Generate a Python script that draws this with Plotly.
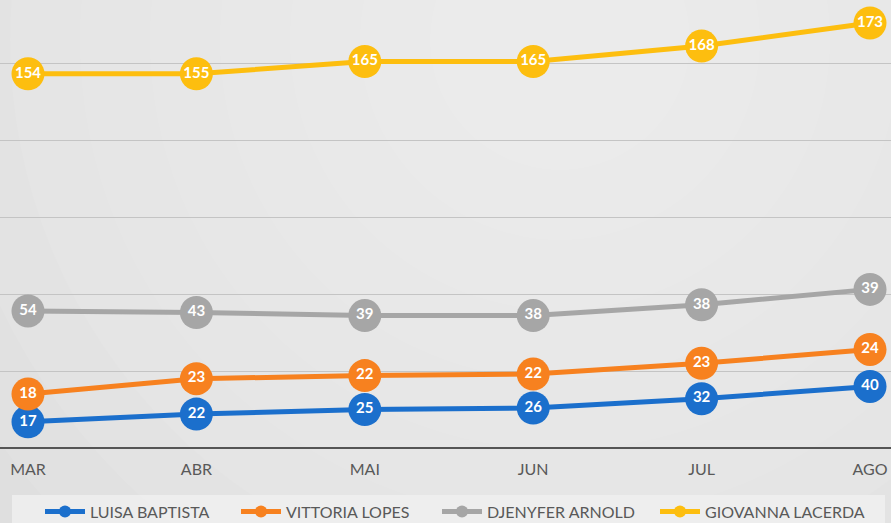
import numpy as np
import plotly.graph_objects as go

months = ["MAR", "ABR", "MAI", "JUN", "JUL", "AGO"]
luisa = [17, 22, 25, 26, 32, 40]
vittoria = [18, 23, 22, 22, 23, 24]
djenyfer = [54, 43, 39, 38, 38, 39]
giovanna = [154, 155, 165, 165, 168, 173]

names = ["LUISA BAPTISTA", "VITTORIA LOPES", "DJENYFER ARNOLD", "GIOVANNA LACERDA"]
series = [luisa, vittoria, djenyfer, giovanna]
colors = ["#1b6fcc", "#f7811f", "#a6a6a6", "#fdbe0f"]
legend_widths = [141, 146, 163, 170]

x = list(range(len(months)))
cum = np.cumsum(np.array(series), axis=0)

fig = go.Figure()
for name, vals, ys, col, lw in zip(names, series, cum, colors, legend_widths):
    fig.add_trace(go.Scatter(
        x=x, y=ys, name=name, mode="lines+markers+text",
        text=[str(v) for v in vals], textposition="middle center",
        textfont=dict(color="white", size=15, family="Lato", weight="bold"),
        line=dict(color=col, width=5),
        marker=dict(color=col, size=33),
        cliponaxis=False, legendwidth=lw,
    ))

W, H = 891, 523
shapes = []
# radial-ish background gradient approximation
cx, cy = 560, 40
for i, r in enumerate(range(900, 60, -70)):
    shapes.append(dict(type="circle", xref="paper", yref="paper",
                       x0=(cx - r) / W, x1=(cx + r) / W,
                       y0=(448 - cy - r) / 448, y1=(448 - cy + r) / 448,
                       fillcolor="white", opacity=0.07, line=dict(width=0),
                       layer="below"))
# legend box
shapes.append(dict(type="rect", xref="paper", yref="paper",
                   x0=12 / W, x1=885 / W, y0=(448 - 523) / 448, y1=(448 - 495) / 448,
                   fillcolor="#f0f0f0", opacity=0.8, line=dict(width=0), layer="below"))

fig.update_layout(
    width=W, height=H,
    margin=dict(l=0, r=0, t=0, b=75, autoexpand=False),
    paper_bgcolor="#d9d9d9", plot_bgcolor="rgba(0,0,0,0)",
    font=dict(family="Lato", color="#595959"),
    shapes=shapes,
    showlegend=True,
    legend=dict(orientation="h", x=40 / W, xanchor="left", y=-0.104, yanchor="top",
                font=dict(size=16, color="#595959"), bgcolor="rgba(0,0,0,0)",
                itemwidth=40, itemsizing="constant", traceorder="normal"),
    xaxis=dict(range=[-28 / 168.4, 5 + 21 / 168.4], tickmode="array", tickvals=x,
               ticktext=months, showgrid=False, zeroline=False,
               tickfont=dict(size=16, color="#595959"), ticks="", ticklabelstandoff=10,
               showline=False),
    yaxis=dict(range=[0, 448 / 1.54], dtick=50, showgrid=True, gridcolor="#c4c4c4",
               gridwidth=1, showticklabels=False, zeroline=True, zerolinecolor="#555555",
               zerolinewidth=2, ticks=""),
)

fig.write_html("out.html", config={"displayModeBar": False},
               post_script="document.body.style.margin='0';document.body.style.overflow='hidden';")
